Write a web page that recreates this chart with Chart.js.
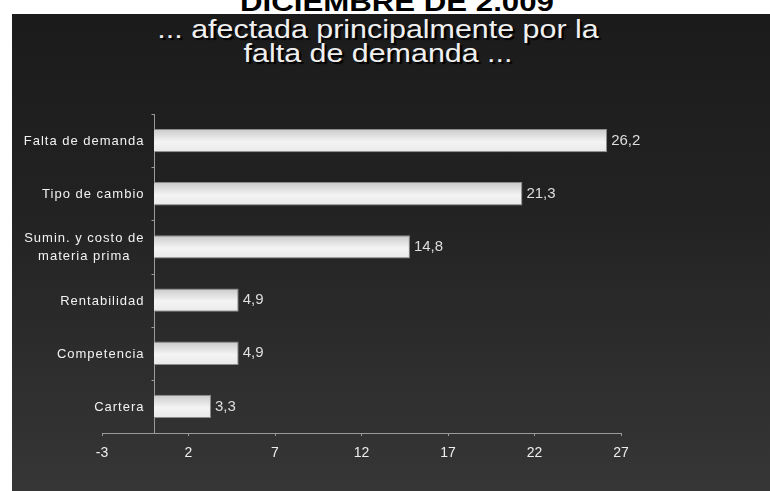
<!DOCTYPE html>
<html><head><meta charset="utf-8">
<script src="https://cdn.jsdelivr.net/npm/chart.js@4"></script>
<style>
html,body{margin:0;padding:0;background:#fff;width:770px;height:491px;overflow:hidden;position:relative;font-family:"Liberation Sans",Arial,sans-serif}
#panel{position:absolute;left:12px;top:14px;width:758px;height:477px;background:linear-gradient(#1b1b1b,#222 40%,#363636)}
#c{position:absolute;left:0;top:0}
.t{position:absolute;white-space:nowrap;transform:translateX(-50%) scaleX(1.17);line-height:26px;font-size:26px}
#h0{left:397px;top:-11px;font-weight:bold;color:#000;transform:translateX(-50%) scaleX(1.2)}
#h1{left:378px;top:16px;color:#f0f0f0;text-shadow:2px 2px 1px #000}
#h2{left:378px;top:40px;color:#f0f0f0;text-shadow:2px 2px 1px #000}
</style></head>
<body>
<div id="panel"></div>
<div class="t" id="h0">DICIEMBRE DE 2.009</div>
<div class="t" id="h1">... afectada principalmente por la</div>
<div class="t" id="h2">falta de demanda ...</div>
<canvas id="c" width="770" height="491"></canvas>
<script>
const categories = [["Falta de demanda"],["Tipo de cambio"],["Sumin. y costo de","materia prima"],["Rentabilidad"],["Competencia"],["Cartera"]];
const values = [26.2, 21.3, 14.8, 4.9, 4.9, 3.3];
const xMin = -3, xMax = 27, xStep = 5;

const deco = {
  id: 'deco',
  beforeDatasetsDraw(chart) {
    const {ctx, scales: {x, y}, chartArea} = chart;
    const x0 = Math.round(x.getPixelForValue(0)) + 0.5;
    ctx.save();
    ctx.strokeStyle = '#9a9a9a'; ctx.lineWidth = 1;
    ctx.beginPath();
    ctx.moveTo(x0, chartArea.top); ctx.lineTo(x0, chartArea.bottom);
    for (let i = 0; i <= categories.length; i++) {
      const yy = Math.round(y.getPixelForValue(i - 0.5)) + 0.5;
      ctx.moveTo(x0 - 3, yy); ctx.lineTo(x0, yy);
    }
    ctx.stroke();
    ctx.fillStyle = '#f2f2f2';
    ctx.font = '13px "Liberation Sans", Arial, sans-serif';
    ctx.letterSpacing = '1px';
    ctx.textBaseline = 'middle'; ctx.textAlign = 'center';
    categories.forEach((lines, i) => {
      const cy = y.getPixelForValue(i) + 1;
      const w = Math.max(...lines.map(l => ctx.measureText(l).width));
      const cx = x0 - 10 - w / 2;
      lines.forEach((l, j) => ctx.fillText(l, cx, cy + (j - (lines.length - 1) / 2) * 18));
    });
    ctx.restore();
  },
  afterDatasetsDraw(chart) {
    const {ctx} = chart;
    const meta = chart.getDatasetMeta(0);
    ctx.save();
    ctx.fillStyle = '#dedede';
    ctx.font = '15px "Liberation Sans", Arial, sans-serif';
    ctx.textBaseline = 'middle'; ctx.textAlign = 'left';
    meta.data.forEach((bar, i) => {
      ctx.fillText(String(values[i]).replace('.', ','), bar.x + 4, bar.y);
    });
    ctx.restore();
  }
};

new Chart(document.getElementById('c'), {
  type: 'bar',
  data: {
    labels: categories,
    datasets: [{
      data: values,
      backgroundColor(ctx) {
        const ch = ctx.chart;
        if (!ch.chartArea || !ch.scales.y) return '#e8e8e8';
        const yc = ch.scales.y.getPixelForValue(ctx.dataIndex);
        const g = ch.ctx.createLinearGradient(0, yc - 12, 0, yc + 12);
        g.addColorStop(0, '#c8c8c8');
        g.addColorStop(0.55, '#f4f4f4');
        g.addColorStop(1, '#e8e8e8');
        return g;
      },
      borderColor: '#8c8c8c',
      borderWidth: 1,
      borderSkipped: 'start',
      barPercentage: 0.44,
      categoryPercentage: 1
    }]
  },
  options: {
    indexAxis: 'y',
    responsive: false,
    animation: false,
    layout: {padding: {left: 102, right: 149, top: 114, bottom: 0}},
    plugins: {legend: {display: false}, tooltip: {enabled: false}},
    scales: {
      x: {
        type: 'linear', min: xMin, max: xMax,
        ticks: {stepSize: xStep, color: '#eeeeee', font: {size: 14, family: '"Liberation Sans", Arial, sans-serif'}, padding: 9},
        grid: {drawOnChartArea: false, color: '#9a9a9a', tickLength: 3},
        border: {color: '#9a9a9a', width: 1},
        afterFit(s) { s.height = 58; }
      },
      y: {type: 'category', display: false, offset: true}
    }
  },
  plugins: [deco]
});
</script>
</body></html>
